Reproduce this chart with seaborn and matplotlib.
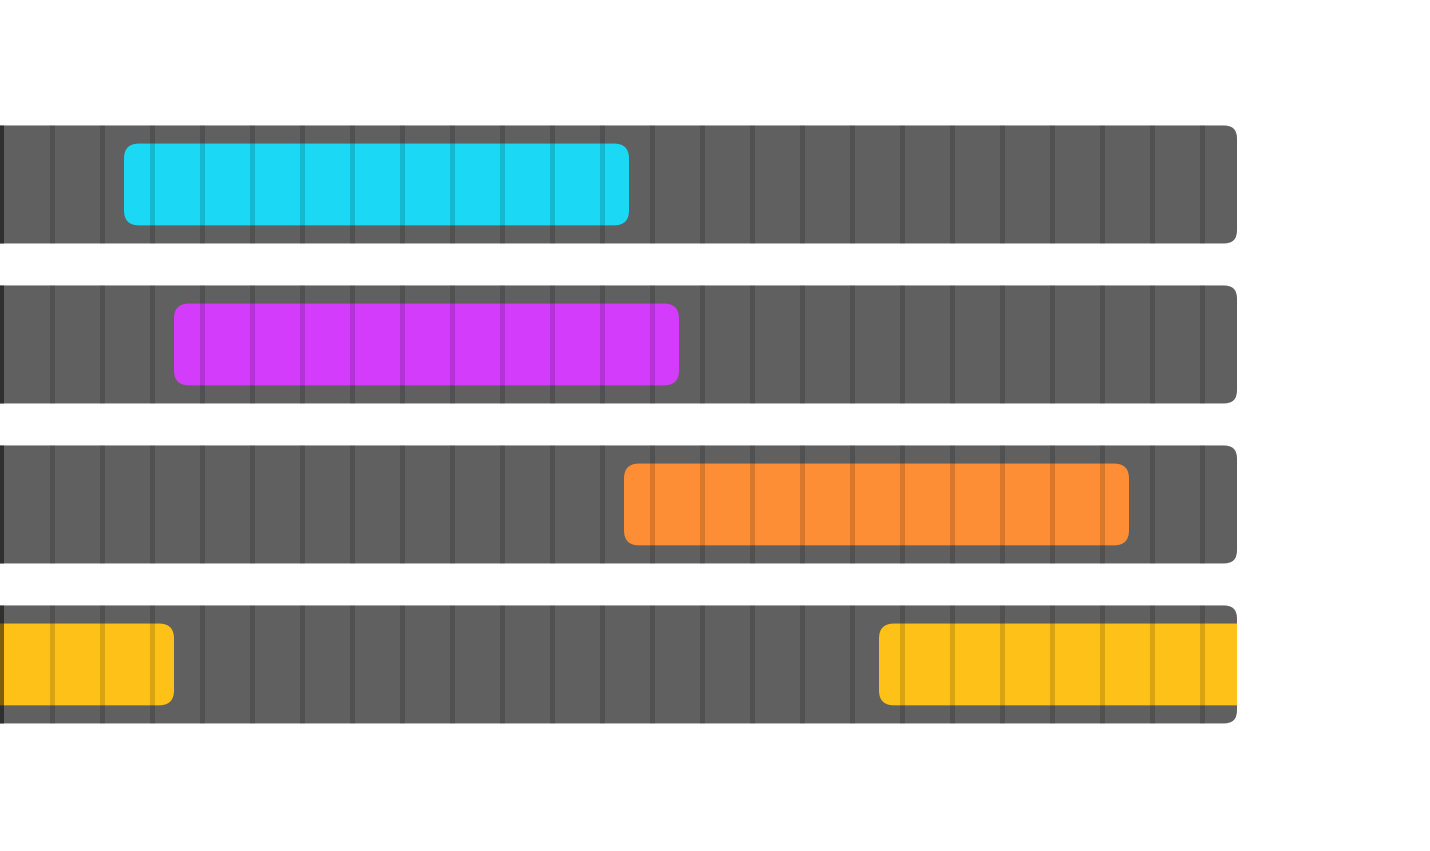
import numpy as np
import pandas as pd
import matplotlib
matplotlib.use('Agg')
import matplotlib.pyplot as plt
from matplotlib.patches import FancyBboxPatch
import seaborn as sns

# rows of the schedule (hours 0-24)
rows = ['r1', 'r2', 'r3', 'r4']
starts = [2.5, 3.5, 12.5, 17.6]
durations = [10, 10, 10, 9.8]
colors = ['#1bd9f5', '#d43cfc', '#fe8e36', '#fec117']
hours = list(range(0, 25))
day_end = 24.71

sns.set_theme(style='white')

fig = plt.figure(figsize=(14.3, 8.51), dpi=100)
ax = fig.add_axes([0, 0, 1237 / 1430, 1])

df = pd.DataFrame({'row': rows, 'end': [day_end] * len(rows)})
sns.barplot(data=df, x='end', y='row', orient='h', color='#606060', width=0.7375, ax=ax)

aspect = 50 / 160  # x units per px vs y units per px

# swap the square bars for rounded tracks
for p in list(ax.patches):
    y0, h = p.get_y(), p.get_height()
    p.remove()
    track = FancyBboxPatch((-1, y0), day_end + 1, h,
                           boxstyle='round,pad=0,rounding_size=0.26',
                           mutation_aspect=aspect, fc='#606060', ec='none', zorder=1)
    ax.add_patch(track)

seg_h = 0.48
for i, (s, d, c) in enumerate(zip(starts, durations, colors)):
    e = s + d
    pieces = [(s, e)]
    if e > 24:
        pieces = [(s, e), (s - 24, e - 24)]
    for a, b in pieces:
        box = FancyBboxPatch((a, i - seg_h / 2), b - a, seg_h,
                             boxstyle='round,pad=0.05,rounding_size=0.3',
                             mutation_aspect=aspect, fc=c, ec='none', zorder=2)
        ax.add_patch(box)
    for hr in hours:
        alpha = 0.5 if hr == 0 else 0.15
        ax.vlines(hr, i - 0.7375 / 2, i + 0.7375 / 2, color='black', alpha=alpha,
                  linewidth=3.6, zorder=3)

ax.set_xlim(-0.03, day_end)
ax.set_ylim(4.166, -1.153)
ax.axis('off')

fig.savefig('out.png', dpi=100)
